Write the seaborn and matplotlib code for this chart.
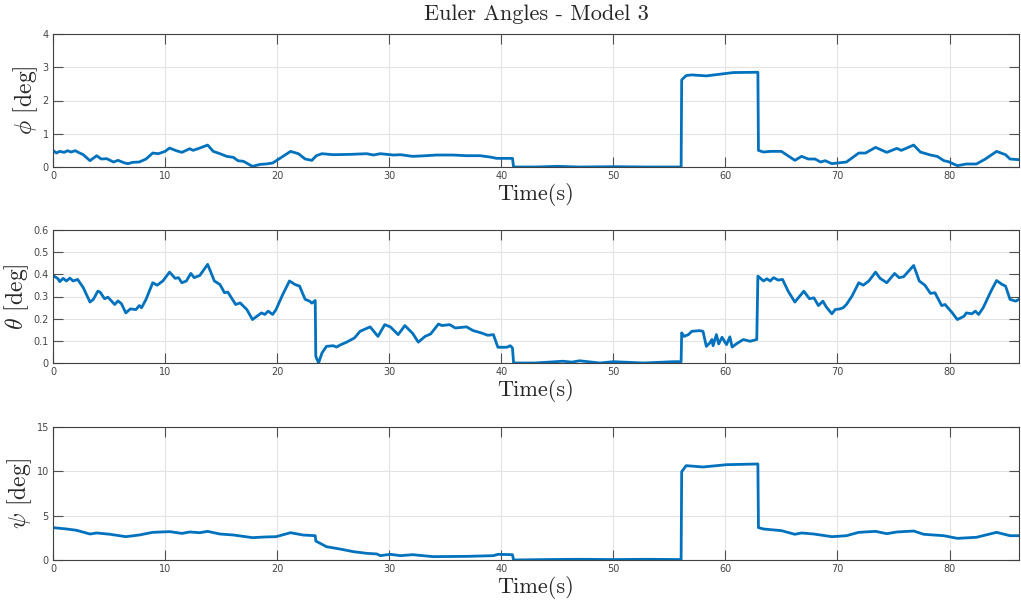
import matplotlib
matplotlib.use("Agg")
import matplotlib.pyplot as plt
import seaborn as sns

# ---------------- data ----------------
phi_t = [0.0, 0.3, 0.6, 1.0, 1.3, 1.6, 2.0, 2.2, 2.7, 3.3, 3.9, 4.3, 4.8, 5.4, 5.8, 6.4, 6.7,
         7.1, 7.7, 8.3, 8.9, 9.4, 10.0, 10.4, 11.0, 11.5, 12.2, 12.5, 13.1, 13.8, 14.3, 14.9,
         15.5, 16.1, 16.5, 17.0, 17.8, 18.5, 19.0, 19.6, 20.2, 21.2, 21.9, 22.5, 23.1, 23.5,
         24.0, 25.0, 26.5, 28.0, 28.6, 29.2, 30.4, 31.0, 32.1, 33.3, 34.2, 35.7, 36.9, 38.1,
         39.0, 39.6, 41.0, 41.1, 43.0, 45.0, 47.0, 50.0, 53.0, 56.05, 56.1, 56.5, 57.0, 58.3,
         60.7, 62.9, 62.95, 63.4, 64.0, 65.0, 66.2, 66.8, 67.4, 68.0, 68.5, 68.9, 69.5, 70.0,
         70.8, 71.9, 72.5, 73.4, 74.4, 75.3, 75.7, 76.8, 77.4, 78.3, 78.9, 79.5, 79.9, 80.7,
         81.5, 82.4, 83.2, 84.2, 85.0, 85.4, 86.2]
phi_v = [0.50, 0.42, 0.47, 0.44, 0.49, 0.45, 0.49, 0.45, 0.37, 0.19, 0.34, 0.24, 0.25, 0.15,
         0.20, 0.12, 0.10, 0.14, 0.15, 0.24, 0.42, 0.40, 0.47, 0.57, 0.49, 0.44, 0.55, 0.50,
         0.57, 0.66, 0.47, 0.40, 0.32, 0.29, 0.19, 0.17, 0.02, 0.08, 0.09, 0.12, 0.25, 0.47,
         0.40, 0.24, 0.20, 0.34, 0.40, 0.37, 0.38, 0.40, 0.36, 0.40, 0.36, 0.37, 0.32, 0.34,
         0.36, 0.36, 0.34, 0.34, 0.30, 0.26, 0.26, 0.0, 0.0, 0.02, 0.0, 0.01, 0.0, 0.0, 2.62,
         2.75, 2.77, 2.74, 2.84, 2.85, 0.50, 0.45, 0.47, 0.47, 0.20, 0.32, 0.24, 0.24, 0.15,
         0.19, 0.10, 0.12, 0.15, 0.42, 0.42, 0.59, 0.44, 0.56, 0.50, 0.66, 0.45, 0.36, 0.32,
         0.19, 0.16, 0.04, 0.09, 0.09, 0.24, 0.47, 0.37, 0.24, 0.22]

theta_t = [0.0, 0.45, 0.6, 0.9, 1.2, 1.5, 1.8, 2.2, 2.7, 3.3, 3.6, 4.0, 4.2, 4.6, 4.9, 5.5,
           5.8, 6.1, 6.5, 6.9, 7.4, 7.7, 7.9, 8.3, 8.9, 9.3, 9.8, 10.4, 10.9, 11.2, 11.5,
           11.9, 12.3, 12.6, 13.1, 13.8, 14.4, 14.9, 15.3, 15.6, 16.3, 16.7, 17.3, 17.8, 18.2,
           18.6, 18.9, 19.2, 19.6, 19.9, 20.5, 21.1, 21.6, 22.0, 22.5, 22.9, 23.1, 23.4, 23.45,
           23.7, 24.0, 24.4, 25.0, 25.3, 25.7, 26.2, 26.9, 27.4, 28.3, 29.0, 29.6, 30.1, 30.8,
           31.4, 32.1, 32.6, 33.2, 33.7, 34.4, 34.7, 35.4, 35.9, 36.9, 37.5, 38.2, 38.8, 39.3,
           39.7, 40.5, 40.8, 41.0, 41.1, 43.0, 45.5, 46.3, 47.0, 48.8, 50.0, 52.7, 55.4, 56.05,
           56.1, 56.3, 56.7, 57.0, 57.7, 58.0, 58.3, 58.6, 58.8, 58.9, 59.2, 59.4, 59.7, 60.1,
           60.4, 60.6, 61.0, 61.6, 62.2, 62.8, 62.9, 63.4, 63.7, 64.0, 64.3, 64.7, 65.1, 65.6,
           66.2, 67.0, 67.5, 67.9, 68.3, 68.7, 69.0, 69.5, 69.8, 70.2, 70.5, 70.8, 71.3, 71.9,
           72.3, 72.8, 73.4, 73.8, 74.4, 75.1, 75.5, 75.9, 76.8, 77.3, 77.8, 78.3, 78.7, 79.3,
           79.6, 80.2, 80.7, 81.3, 81.5, 82.0, 82.3, 82.6, 83.0, 83.7, 84.2, 84.7, 85.0, 85.4,
           85.9, 86.2]
theta_v = [0.395, 0.38, 0.367, 0.382, 0.37, 0.383, 0.37, 0.377, 0.34, 0.275, 0.287, 0.324,
           0.32, 0.29, 0.297, 0.264, 0.28, 0.268, 0.226, 0.244, 0.241, 0.259, 0.249, 0.287,
           0.362, 0.351, 0.37, 0.41, 0.382, 0.385, 0.362, 0.37, 0.404, 0.385, 0.395, 0.445,
           0.37, 0.354, 0.317, 0.32, 0.264, 0.271, 0.241, 0.196, 0.211, 0.226, 0.219, 0.234,
           0.219, 0.241, 0.309, 0.37, 0.354, 0.347, 0.287, 0.279, 0.27, 0.282, 0.03, 0.0,
           0.045, 0.075, 0.078, 0.072, 0.083, 0.094, 0.113, 0.143, 0.163, 0.12, 0.173, 0.163,
           0.128, 0.169, 0.133, 0.094, 0.12, 0.131, 0.176, 0.169, 0.173, 0.158, 0.163, 0.146,
           0.136, 0.125, 0.128, 0.071, 0.071, 0.078, 0.068, 0.0, 0.0, 0.008, 0.004, 0.01, 0.0,
           0.006, 0.0, 0.006, 0.006, 0.136, 0.12, 0.128, 0.143, 0.146, 0.143, 0.075, 0.09,
           0.106, 0.078, 0.128, 0.086, 0.116, 0.083, 0.118, 0.072, 0.087, 0.106, 0.098, 0.106,
           0.392, 0.37, 0.38, 0.37, 0.385, 0.374, 0.377, 0.324, 0.275, 0.324, 0.29, 0.294,
           0.259, 0.279, 0.253, 0.222, 0.241, 0.244, 0.249, 0.264, 0.302, 0.362, 0.351, 0.37,
           0.41, 0.382, 0.362, 0.404, 0.385, 0.389, 0.44, 0.37, 0.351, 0.314, 0.317, 0.259,
           0.264, 0.229, 0.196, 0.211, 0.226, 0.222, 0.234, 0.219, 0.249, 0.324, 0.372, 0.354,
           0.347, 0.287, 0.279, 0.287]

psi_t = [0.0, 1.2, 2.1, 3.3, 3.9, 5.1, 6.5, 7.7, 8.9, 10.4, 11.5, 12.2, 13.1, 13.8, 14.9,
         16.1, 17.8, 19.0, 19.9, 21.2, 22.3, 23.4, 23.45, 24.4, 25.6, 26.8, 28.0, 28.9, 29.2,
         30.1, 31.0, 32.1, 33.9, 36.9, 39.3, 39.7, 41.0, 41.1, 44.0, 47.0, 50.0, 53.0, 56.05,
         56.1, 56.5, 58.0, 60.1, 62.9, 62.95, 63.4, 65.0, 66.2, 66.8, 67.9, 69.5, 70.8, 71.9,
         73.4, 74.4, 75.3, 76.8, 77.7, 79.5, 80.7, 82.4, 84.2, 85.4, 86.2]
psi_v = [3.65, 3.5, 3.35, 2.93, 3.05, 2.9, 2.63, 2.82, 3.12, 3.2, 3.0, 3.16, 3.08, 3.23,
         2.93, 2.82, 2.52, 2.6, 2.63, 3.08, 2.82, 2.74, 2.14, 1.5, 1.24, 0.94, 0.75, 0.68,
         0.49, 0.64, 0.49, 0.6, 0.38, 0.41, 0.49, 0.64, 0.6, 0.0, 0.05, 0.08, 0.05, 0.08,
         0.05, 9.96, 10.64, 10.49, 10.75, 10.83, 3.65, 3.5, 3.31, 2.9, 3.05, 2.93, 2.63, 2.74,
         3.12, 3.23, 2.97, 3.16, 3.27, 2.9, 2.74, 2.44, 2.56, 3.12, 2.74, 2.74]

ylabels = [r"$\phi$ [deg]", r"$\theta$ [deg]", r"$\psi$ [deg]"]
ylims = [(0, 4), (0, 0.6), (0, 15)]
yticks = [[0, 1, 2, 3, 4], [0, 0.1, 0.2, 0.3, 0.4, 0.5, 0.6], [0, 5, 10, 15]]
ytick_labels = [["0", "1", "2", "3", "4"],
                ["0", "0.1", "0.2", "0.3", "0.4", "0.5", "0.6"],
                ["0", "5", "10", "15"]]
xticks = [0, 10, 20, 30, 40, 50, 60, 70, 80]
title = "Euler Angles - Model 3"
xlabel = "Time(s)"

# ---------------- styling ----------------
sns.set_style("whitegrid")
plt.rcParams["mathtext.fontset"] = "cm"
plt.rcParams["font.family"] = ["DejaVu Sans"]

LINE = "#0072BD"
SERIF = "cmr10"

fig = plt.figure(figsize=(10.21, 6.07), dpi=100)
fig.patch.set_facecolor("white")

W, H = 1021, 607
left_px, right_px = 53, 1019
tops = [34, 230, 427]
height_px = 133

series = [(phi_t, phi_v), (theta_t, theta_v), (psi_t, psi_v)]
axes = []
for i, (t, v) in enumerate(series):
    top = tops[i]
    ax = fig.add_axes([left_px / W, 1 - (top + height_px) / H,
                       (right_px - left_px) / W, height_px / H])
    sns.lineplot(x=t, y=v, ax=ax, color=LINE, linewidth=2.0, estimator=None, sort=False)
    ax.set_xlim(0, 86.2)
    ax.set_ylim(*ylims[i])
    ax.set_xticks(xticks)
    ax.set_xticklabels([str(x) for x in xticks])
    ax.set_yticks(yticks[i])
    ax.set_yticklabels(ytick_labels[i])
    ax.grid(True, color="#e3e3e3", linewidth=0.8)
    ax.set_axisbelow(True)
    for s in ax.spines.values():
        s.set_color("#404040")
        s.set_linewidth(0.8)
        s.set_visible(True)
    ax.tick_params(axis="both", which="both", direction="in", length=7, width=0.8,
                   color="#505050", labelsize=7, labelcolor="#454545",
                   top=True, right=True, bottom=True, left=True, pad=3)
    ax.set_xlabel(xlabel, family=SERIF, fontsize=16, color="#262626", labelpad=1)
    ax.set_ylabel(ylabels[i], family=SERIF, fontsize=17, color="#262626", labelpad=2)
    ax.set_facecolor("white")
    axes.append(ax)

axes[0].set_title(title, family=SERIF, fontsize=16, color="#262626", pad=10)

fig.savefig("out.png", dpi=100, facecolor="white")
